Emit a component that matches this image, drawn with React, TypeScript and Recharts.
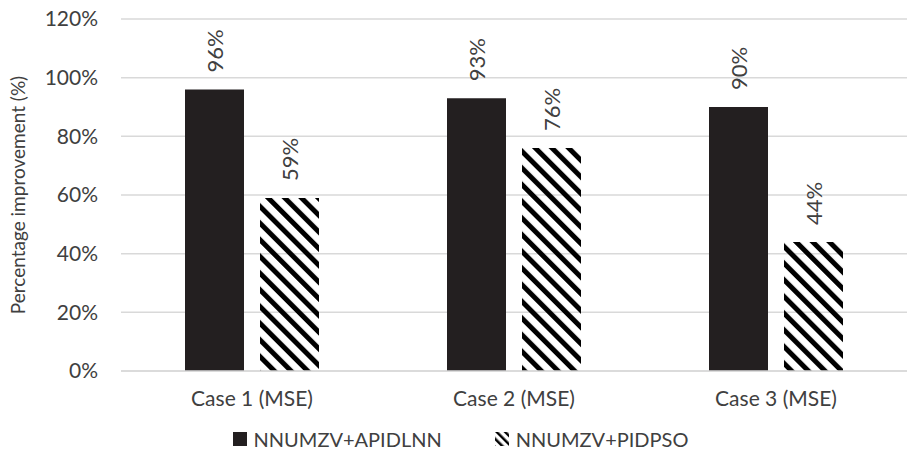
import React from "react";
import { BarChart, Bar, XAxis, YAxis, CartesianGrid, LabelList, Legend, Label } from "recharts";

const categories = ["Case 1 (MSE)", "Case 2 (MSE)", "Case 3 (MSE)"];
const apidlnn = [96, 93, 90];
const pidpso = [59, 76, 44];
const yTicks = [0, 20, 40, 60, 80, 100, 120];
const seriesNames = ["NNUMZV+APIDLNN", "NNUMZV+PIDPSO"];

const data = categories.map((c, i) => ({ name: c, a: apidlnn[i], b: pidpso[i] }));

const FONT = "Lato, 'Open Sans', sans-serif";
const TEXT = "#404040";

const RotatedLabel = (props: any) => {
  const { x, y, width, value } = props;
  const cx = x + width / 2;
  const cy = y - 17;
  return (
    <text
      x={cx}
      y={cy}
      transform={`rotate(-90 ${cx} ${cy})`}
      textAnchor="start"
      dominantBaseline="central"
      fill={TEXT}
      fontSize={22}
      fontFamily={FONT}
    >
      {`${value}%`}
    </text>
  );
};

const LegendContent = () => (
  <div style={{ display: "flex", justifyContent: "center", alignItems: "center", fontFamily: FONT, fontSize: 20, color: TEXT, gap: 53, paddingTop: 16, paddingLeft: 14 }}>
    <div style={{ display: "flex", alignItems: "center" }}>
      <svg width={14} height={14} style={{ marginRight: 7 }}>
        <rect width={14} height={14} fill="#231f20" />
      </svg>
      <span>{seriesNames[0]}</span>
    </div>
    <div style={{ display: "flex", alignItems: "center" }}>
      <svg width={14} height={14} style={{ marginRight: 7 }}>
        <defs>
          <pattern id="hatchSmall" patternUnits="userSpaceOnUse" width={6} height={6} patternTransform="rotate(-45)">
            <rect x={0} y={0} width={2.5} height={6} fill="#000" />
          </pattern>
        </defs>
        <rect width={14} height={14} fill="url(#hatchSmall)" />
      </svg>
      <span>{seriesNames[1]}</span>
    </div>
  </div>
);

export default function App() {
  return (
    <div style={{ position: "absolute", left: 0, top: 0, background: "#fff" }}>
      <BarChart
        width={907}
        height={472}
        data={data}
        margin={{ top: 19, right: 0, bottom: 0, left: 0 }}
        barSize={59}
        barGap={16}
      >
        <defs>
          <pattern id="hatch" patternUnits="userSpaceOnUse" width={11.8} height={11.8} patternTransform="rotate(-45)">
            <rect x={0} y={0} width={5} height={11.8} fill="#000" />
          </pattern>
        </defs>
        <CartesianGrid vertical={false} stroke="#d9d9d9" strokeWidth={1.5} />
        <XAxis
          dataKey="name"
          axisLine={{ stroke: "#d9d9d9", strokeWidth: 1.5 }}
          tickLine={false}
          tickMargin={14}
          height={40}
          tick={{ fill: TEXT, fontSize: 21, fontFamily: FONT }}
        />
        <YAxis
          domain={[0, 120]}
          ticks={yTicks}
          tickFormatter={(v: number) => `${v}%`}
          axisLine={false}
          tickLine={false}
          tickMargin={17}
          width={121}
          tick={{ fill: TEXT, fontSize: 21, fontFamily: FONT }}
        >
          <Label
            value="Percentage improvement (%)"
            angle={-90}
            position="insideLeft"
            offset={18}
            style={{ textAnchor: "middle", fill: TEXT, fontSize: 19, fontFamily: FONT }}
          />
        </YAxis>
        <Legend verticalAlign="bottom" height={61} content={<LegendContent />} />
        <Bar dataKey="a" name={seriesNames[0]} fill="#231f20" isAnimationActive={false}>
          <LabelList dataKey="a" content={<RotatedLabel />} />
        </Bar>
        <Bar dataKey="b" name={seriesNames[1]} fill="url(#hatch)" isAnimationActive={false}>
          <LabelList dataKey="b" content={<RotatedLabel />} />
        </Bar>
      </BarChart>
    </div>
  );
}
